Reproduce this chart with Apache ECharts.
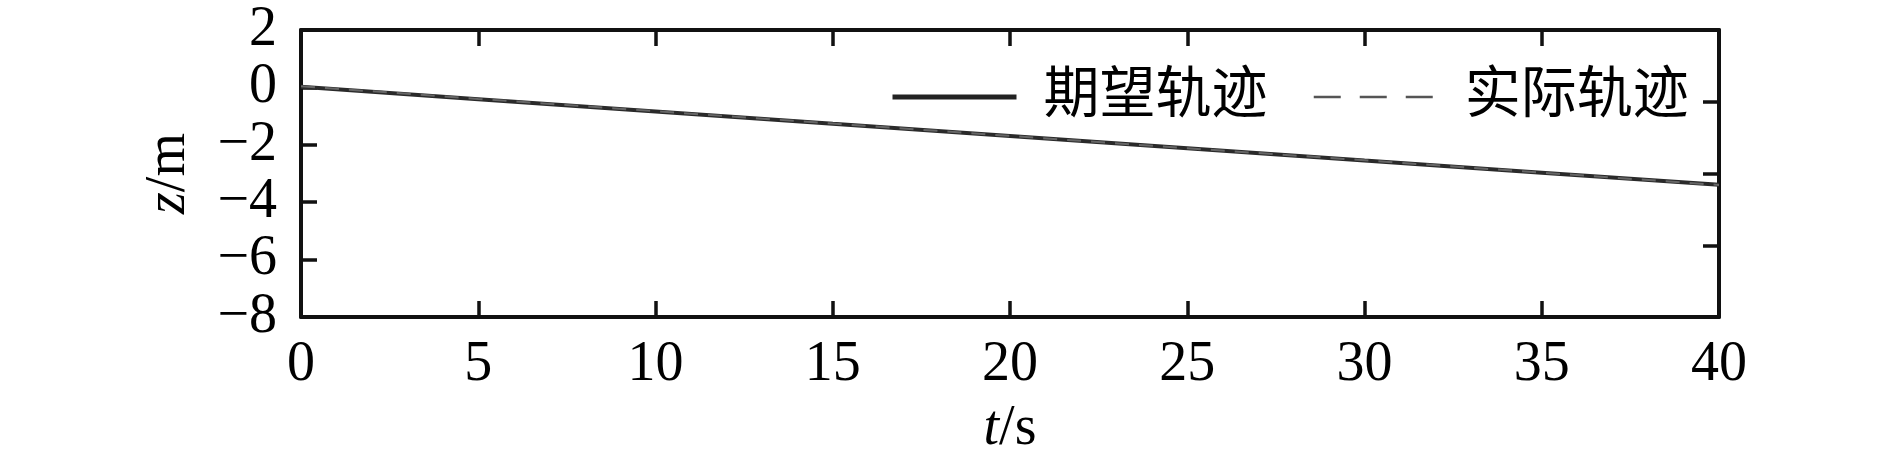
<!DOCTYPE html>
<html>
<head>
<meta charset="utf-8">
<script src="https://cdn.jsdelivr.net/npm/echarts@6/dist/echarts.min.js"></script>
<style>html,body{margin:0;padding:0;background:#fff}#c{width:1890px;height:468px}</style>
</head>
<body>
<div id="c"></div>
<script>
const tVals = [0, 5, 10, 15, 20, 25, 30, 35, 40];
const zDesired = [0.02, -0.41, -0.84, -1.27, -1.69, -2.12, -2.55, -2.97, -3.39];
const zActual = [0.04, -0.40, -0.83, -1.26, -1.69, -2.12, -2.54, -2.97, -3.40];
const seriesNames = ['期望轨迹', '实际轨迹'];
const xName = {it: 't', rest: '/s'};
const yName = {it: 'z', rest: '/m'};

const FONT = "'Liberation Serif', 'Times New Roman', serif";
const CJK = "'Liberation Serif', 'Noto Sans CJK SC', serif";
const AX = '#111';
const FS = 56;

const chart = echarts.init(document.getElementById('c'), null, {renderer: 'canvas'});
const axisLineStyle = {show: true, onZero: false, lineStyle: {color: AX, width: 4}};
const tick = {show: true, inside: true, length: 16, lineStyle: {color: AX, width: 3.5}};
const lbl = {color: '#000', fontFamily: FONT, fontSize: FS};
const minus = v => String(v).replace('-', '\u2212');
const hiddenSymbol = {color: 'rgba(0,0,0,0)', borderWidth: 0, opacity: 0};

chart.setOption({
  animation: false,
  backgroundColor: '#fff',
  color: ['#2a2a2a', '#666'],
  grid: {left: 301, right: 171, top: 30, bottom: 151, containLabel: false},
  legend: {
    left: 885, top: 64,
    itemWidth: 124, itemHeight: 14, itemGap: 45,
    textStyle: {fontFamily: CJK, fontSize: FS, color: '#000', padding: [0, 0, 0, 22]},
    data: [
      {name: seriesNames[0], itemStyle: hiddenSymbol, lineStyle: {width: 5, color: '#222', type: 'solid', opacity: 1}},
      {name: seriesNames[1], itemStyle: hiddenSymbol, lineStyle: {width: 2.5, color: '#555', type: [27, 19], opacity: 1}}
    ]
  },
  xAxis: [
    {
      type: 'value', min: 0, max: 40, interval: 5, position: 'bottom',
      axisLine: axisLineStyle, axisTick: tick, splitLine: {show: false},
      axisLabel: Object.assign({margin: 20}, lbl),
      name: '{i|' + xName.it + '}{n|' + xName.rest + '}',
      nameLocation: 'middle', nameGap: 84,
      nameTextStyle: {rich: {
        i: {fontFamily: FONT, fontSize: FS, fontStyle: 'italic', color: '#000'},
        n: {fontFamily: FONT, fontSize: FS, color: '#000'}
      }}
    },
    {
      type: 'value', min: 0, max: 40, interval: 5, position: 'top',
      axisLine: axisLineStyle, axisTick: tick, splitLine: {show: false},
      axisLabel: {show: false}
    }
  ],
  yAxis: [
    {
      type: 'value', min: -8, max: 2, interval: 2, position: 'left',
      axisLine: axisLineStyle, axisTick: tick, splitLine: {show: false},
      axisLabel: Object.assign({margin: 24, formatter: minus}, lbl),
      name: '{i|' + yName.it + '}{n|' + yName.rest + '}',
      nameLocation: 'middle', nameGap: 104, nameRotate: 90,
      nameTextStyle: {rich: {
        i: {fontFamily: FONT, fontSize: FS, fontStyle: 'italic', color: '#000'},
        n: {fontFamily: FONT, fontSize: FS, color: '#000'}
      }}
    },
    {
      type: 'value', min: 0, max: 4, interval: 1, position: 'right',
      axisLine: axisLineStyle, axisTick: tick, splitLine: {show: false},
      axisLabel: {show: false}
    }
  ],
  series: [
    {
      name: seriesNames[0], type: 'line', xAxisIndex: 0, yAxisIndex: 0,
      symbol: 'none', smooth: false,
      itemStyle: {color: '#2a2a2a'},
      lineStyle: {color: '#2a2a2a', width: 4, type: 'solid'},
      data: tVals.map((t, i) => [t, zDesired[i]])
    },
    {
      name: seriesNames[1], type: 'line', xAxisIndex: 0, yAxisIndex: 0,
      symbol: 'none', smooth: false,
      itemStyle: {color: '#666'},
      lineStyle: {color: '#666', width: 2, type: [14, 10]},
      data: tVals.map((t, i) => [t, zActual[i]])
    }
  ]
});
</script>
</body>
</html>
